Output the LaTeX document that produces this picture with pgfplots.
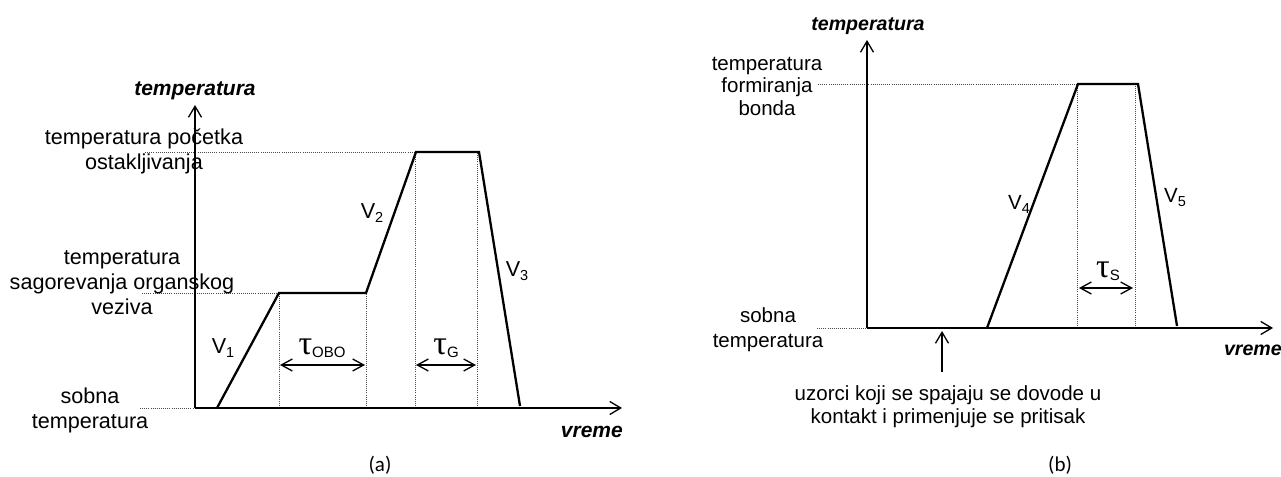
\documentclass[border=0pt]{standalone}
\usepackage{pgfplots}
\pgfplotsset{compat=1.18}
\usetikzlibrary{arrows.meta}
\usepackage{fontspec}
\setmainfont{Liberation Sans}
\newfontfamily\taufont{Liberation Serif}
\newfontfamily\calfont{Carlito}
\newcommand{\fs}[2]{\fontsize{#1bp}{#2bp}\selectfont}
\newcommand{\Vlab}[1]{V\raisebox{-4bp}{\fs{14.5}{14.5}#1}}
\newcommand{\Tlab}[1]{{\taufont\fs{34}{34}τ}\raisebox{-3bp}{\fs{15}{15}#1}}
\begin{document}
\begin{tikzpicture}[x=1bp,y=1bp]
\path[use as bounding box] (0,0) rectangle (1281,477);
\tikzset{
  ax/.style={line width=1.3bp, -{Straight Barb[length=11bp,width=13bp]}},
  dd/.style={line width=0.8bp, dash pattern=on 0.8bp off 1.3bp, black!70},
  da/.style={line width=1.3bp, {Straight Barb[length=11bp,width=12bp]}-{Straight Barb[length=11bp,width=12bp]}},
  curve/.style={line width=2.3bp, black},
  laba/.style={font=\fs{21.6}{25}, align=center, inner sep=0pt},
  labb/.style={font=\fs{20.5}{23}, align=center, inner sep=0pt},
  bit/.style={font=\fs{21}{25}\bfseries\itshape, inner sep=0pt},
}
% ---------------- panel (a) ----------------
\begin{axis}[at={(195,69)}, anchor=south west, scale only axis,
  width=427bp, height=303bp, xmin=0, xmax=427, ymin=0, ymax=303,
  hide axis, clip=false]
% dotted guides
\draw[dd] (axis cs:-55,0) -- (axis cs:0,0);
\draw[dd] (axis cs:-53,115) -- (axis cs:84,115);
\draw[dd] (axis cs:-50,256) -- (axis cs:221,256);
\draw[dd] (axis cs:84,0) -- (axis cs:84,115);
\draw[dd] (axis cs:171,0) -- (axis cs:171,115);
\draw[dd] (axis cs:220,0) -- (axis cs:220,256);
\draw[dd] (axis cs:282,0) -- (axis cs:282,256);
% temperature profile
\addplot[curve] coordinates {(22,0) (84,115) (171,115) (221,256) (284,256) (325,2)};
% axes
\draw[ax] (axis cs:0,0) -- (axis cs:0,303);
\draw[ax] (axis cs:0,0) -- (axis cs:427,0);
% durations
\draw[da] (axis cs:85,43) -- (axis cs:170,43);
\draw[da] (axis cs:221,43) -- (axis cs:281,43);
\node[laba] at (axis cs:127,60) {\Tlab{OBO}};
\node[laba] at (axis cs:251,60) {\Tlab{G}};
% rate labels
\node[laba] at (axis cs:28,60) {\Vlab{1}};
\node[laba] at (axis cs:177,195) {\Vlab{2}};
\node[laba] at (axis cs:322,137) {\Vlab{3}};
% level labels
\node[laba] at (axis cs:-105,-2) {sobna\\temperatura};
\node[laba] at (axis cs:-73,125) {temperatura\\sagorevanja organskog\\veziva};
\node[laba] at (axis cs:-51,257) {temperatura početka\\ostakljivanja};
% axis titles
\node[bit] at (axis cs:0,317) {temperatura};
\node[bit, anchor=east] at (axis cs:428,-24) {vreme};
\node[font=\calfont\fs{21}{21}, inner sep=0pt] at (axis cs:185,-57) {(a)};
\end{axis}
% ---------------- panel (b) ----------------
\begin{axis}[at={(867,149)}, anchor=south west, scale only axis,
  width=406bp, height=288bp, xmin=0, xmax=406, ymin=0, ymax=288,
  hide axis, clip=false]
\draw[dd] (axis cs:-50,0) -- (axis cs:0,0);
\draw[dd] (axis cs:-49,244) -- (axis cs:211,244);
\draw[dd] (axis cs:210,0) -- (axis cs:210,244);
\draw[dd] (axis cs:268,0) -- (axis cs:268,244);
\addplot[curve] coordinates {(120,0) (211,244) (271,244) (310,2)};
\draw[ax] (axis cs:0,0) -- (axis cs:0,288);
\draw[ax] (axis cs:0,0) -- (axis cs:406,0);
\draw[da] (axis cs:212,40) -- (axis cs:266,40);
\node[labb] at (axis cs:241,57) {\Tlab{S}};
\node[labb] at (axis cs:152,124) {\Vlab{4}};
\node[labb] at (axis cs:308,130) {\Vlab{5}};
\node[labb, font=\fs{20.5}{25}] at (axis cs:-99,-2) {sobna\\temperatura};
\node[labb, font=\fs{20.5}{22.5}] at (axis cs:-100,242) {temperatura\\formiranja\\bonda};
\draw[line width=1.3bp, -{Straight Barb[length=11bp,width=13bp]}] (axis cs:75,-44) -- (axis cs:75,-3);
\node[labb] at (axis cs:81,-79) {uzorci koji se spajaju se dovode u\\kontakt i primenjuje se pritisak};
\node[bit, font=\fs{19.6}{23}\bfseries\itshape] at (axis cs:1,302) {temperatura};
\node[bit, font=\fs{19.6}{23}\bfseries\itshape, anchor=east] at (axis cs:415,-22) {vreme};
\node[font=\calfont\fs{21}{21}, inner sep=0pt] at (axis cs:193,-137) {(b)};
\end{axis}
\end{tikzpicture}
\end{document}
